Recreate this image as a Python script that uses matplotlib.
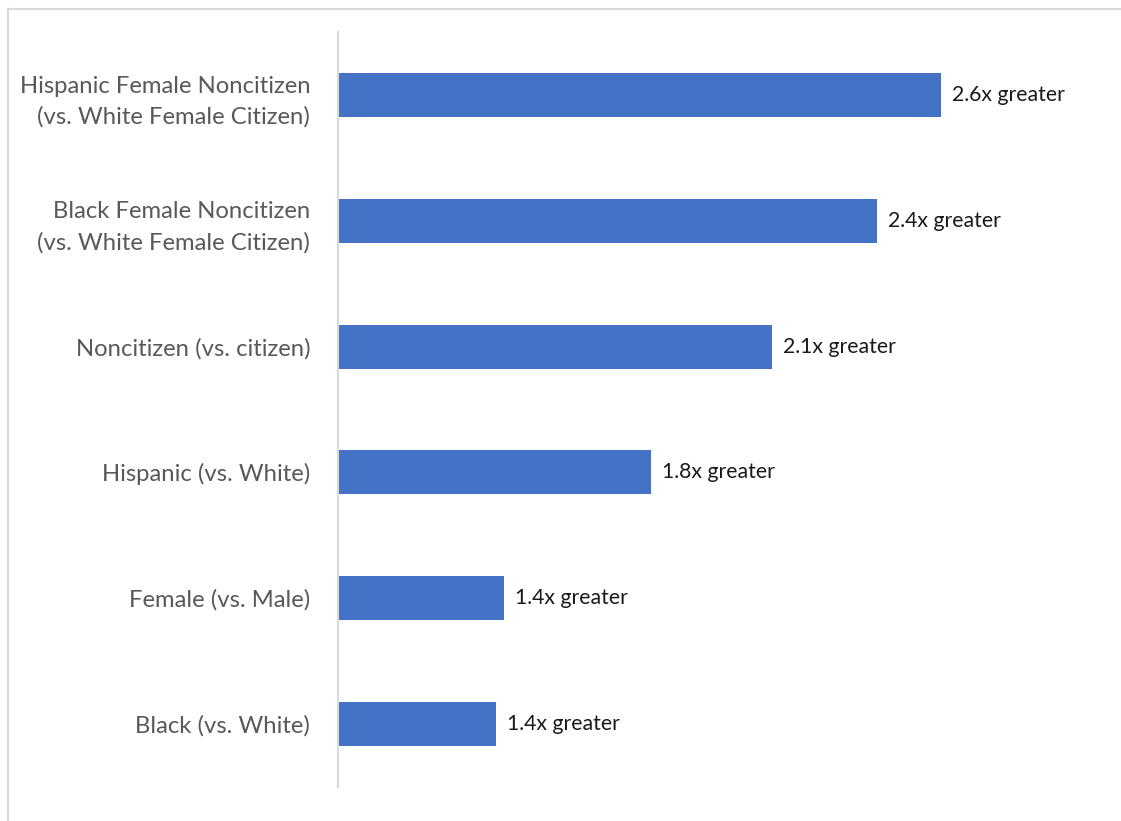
import matplotlib
matplotlib.use("Agg")
import matplotlib.pyplot as plt
from matplotlib.lines import Line2D

# categories top to bottom
categories = [
    "Hispanic Female Noncitizen\n(vs. White Female Citizen)",
    "Black Female Noncitizen\n(vs. White Female Citizen)",
    "Noncitizen (vs. citizen)",
    "Hispanic (vs. White)",
    "Female (vs. Male)",
    "Black (vs. White)",
]
ratios = [2.60, 2.43, 2.15, 1.83, 1.44, 1.42]
labels = ["2.6x greater", "2.4x greater", "2.1x greater",
          "1.8x greater", "1.4x greater", "1.4x greater"]

plt.rcParams['font.family'] = ['Lato', 'DejaVu Sans']

fig = plt.figure(figsize=(11.21, 8.21), dpi=100)
ax = fig.add_axes([338 / 1121, 1 - 787 / 821, (1110 - 338) / 1121, (787 - 32) / 821])

pos = list(range(len(categories)))[::-1]
ax.barh(pos, [r - 1 for r in ratios], left=1, height=0.35, color="#4472c4")

for p, r, lab in zip(pos, ratios, labels):
    ax.annotate(lab, (r, p), xytext=(8, 0), textcoords="offset points",
                va="center", ha="left", fontsize=15.3, color="#1a1a1a")

ax.set_xlim(1, 1 + (1110 - 338) / 377)
ax.set_ylim(-0.5, len(categories) - 0.5)
ax.set_yticks(pos)
ax.set_yticklabels(categories, fontsize=17.2, color="#595959", linespacing=1.55)
ax.tick_params(axis="y", length=0, pad=20)
ax.set_xticks([])
for s in ["top", "right", "bottom"]:
    ax.spines[s].set_visible(False)
ax.spines["left"].set_color("#d9d9d9")
ax.spines["left"].set_linewidth(1.5)

# outer chart border (partially visible)
fig.add_artist(Line2D([8 / 1121, 1], [1 - 9 / 821, 1 - 9 / 821], color="#d9d9d9", lw=1.5,
                      transform=fig.transFigure))
fig.add_artist(Line2D([8 / 1121, 8 / 1121], [0, 1 - 9 / 821], color="#d9d9d9", lw=1.5,
                      transform=fig.transFigure))

fig.savefig("out.png", dpi=100)
